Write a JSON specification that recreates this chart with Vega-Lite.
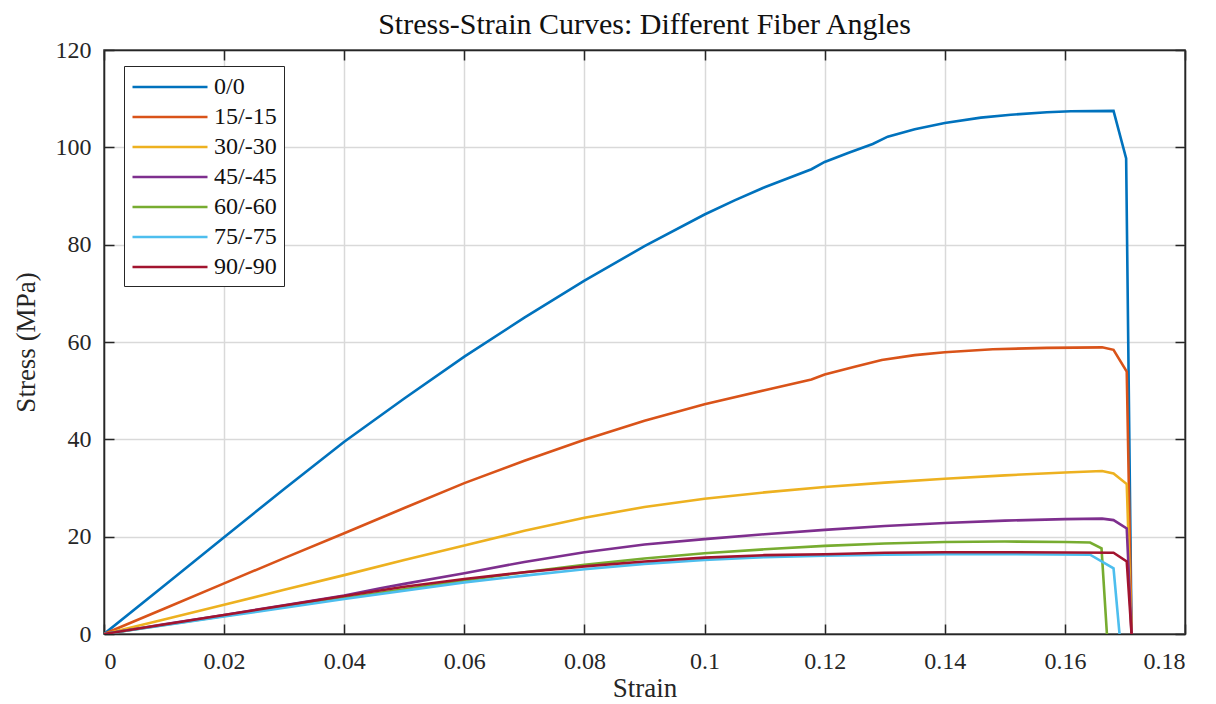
{
  "$schema": "https://vega.github.io/schema/vega-lite/v6.json",
  "autosize": "none",
  "padding": {"left": 104, "top": 50, "right": 31, "bottom": 70},
  "width": 1081,
  "height": 584,
  "background": "white",
  "title": {
    "text": "Stress-Strain Curves: Different Fiber Angles",
    "font": "Liberation Serif",
    "fontSize": 30,
    "fontWeight": "normal",
    "color": "#111111",
    "offset": -2
  },
  "config": {
    "view": {"stroke": "#262626", "strokeWidth": 1.5},
    "axis": {
      "labelFont": "Liberation Serif",
      "titleFont": "Liberation Serif",
      "labelFontSize": 24,
      "titleFontSize": 27,
      "titleFontWeight": "normal",
      "labelColor": "#262626",
      "titleColor": "#262626",
      "domainColor": "#262626",
      "domainWidth": 1.5,
      "tickColor": "#262626",
      "tickWidth": 1.5,
      "tickSize": -10,
      "gridColor": "#d9d9d9",
      "gridWidth": 1.5
    }
  },
  "data": {
    "values": [
      {"angle": "0/0", "strain": 0, "stress": 0},
      {"angle": "0/0", "strain": 0.01, "stress": 9.9},
      {"angle": "0/0", "strain": 0.02, "stress": 19.9},
      {"angle": "0/0", "strain": 0.03, "stress": 29.8},
      {"angle": "0/0", "strain": 0.04, "stress": 39.5},
      {"angle": "0/0", "strain": 0.05, "stress": 48.4},
      {"angle": "0/0", "strain": 0.06, "stress": 57.0},
      {"angle": "0/0", "strain": 0.07, "stress": 65.0},
      {"angle": "0/0", "strain": 0.08, "stress": 72.6},
      {"angle": "0/0", "strain": 0.09, "stress": 79.7},
      {"angle": "0/0", "strain": 0.1, "stress": 86.2},
      {"angle": "0/0", "strain": 0.105, "stress": 89.1},
      {"angle": "0/0", "strain": 0.11, "stress": 91.8},
      {"angle": "0/0", "strain": 0.1178, "stress": 95.5},
      {"angle": "0/0", "strain": 0.12, "stress": 97.0},
      {"angle": "0/0", "strain": 0.124, "stress": 98.9},
      {"angle": "0/0", "strain": 0.128, "stress": 100.7},
      {"angle": "0/0", "strain": 0.1305, "stress": 102.2},
      {"angle": "0/0", "strain": 0.135, "stress": 103.7},
      {"angle": "0/0", "strain": 0.14, "stress": 105.0},
      {"angle": "0/0", "strain": 0.146, "stress": 106.1},
      {"angle": "0/0", "strain": 0.151, "stress": 106.7},
      {"angle": "0/0", "strain": 0.157, "stress": 107.2},
      {"angle": "0/0", "strain": 0.161, "stress": 107.4},
      {"angle": "0/0", "strain": 0.1681, "stress": 107.5},
      {"angle": "0/0", "strain": 0.1702, "stress": 97.7},
      {"angle": "0/0", "strain": 0.1711, "stress": 0},

      {"angle": "15/-15", "strain": 0, "stress": 0},
      {"angle": "15/-15", "strain": 0.01, "stress": 5.2},
      {"angle": "15/-15", "strain": 0.02, "stress": 10.4},
      {"angle": "15/-15", "strain": 0.03, "stress": 15.6},
      {"angle": "15/-15", "strain": 0.04, "stress": 20.7},
      {"angle": "15/-15", "strain": 0.05, "stress": 25.9},
      {"angle": "15/-15", "strain": 0.06, "stress": 31.0},
      {"angle": "15/-15", "strain": 0.07, "stress": 35.6},
      {"angle": "15/-15", "strain": 0.08, "stress": 39.9},
      {"angle": "15/-15", "strain": 0.09, "stress": 43.8},
      {"angle": "15/-15", "strain": 0.1, "stress": 47.2},
      {"angle": "15/-15", "strain": 0.11, "stress": 50.1},
      {"angle": "15/-15", "strain": 0.1178, "stress": 52.3},
      {"angle": "15/-15", "strain": 0.12, "stress": 53.3},
      {"angle": "15/-15", "strain": 0.125, "stress": 54.9},
      {"angle": "15/-15", "strain": 0.1295, "stress": 56.3},
      {"angle": "15/-15", "strain": 0.135, "stress": 57.3},
      {"angle": "15/-15", "strain": 0.14, "stress": 57.9},
      {"angle": "15/-15", "strain": 0.148, "stress": 58.5},
      {"angle": "15/-15", "strain": 0.157, "stress": 58.8},
      {"angle": "15/-15", "strain": 0.1662, "stress": 58.9},
      {"angle": "15/-15", "strain": 0.1681, "stress": 58.4},
      {"angle": "15/-15", "strain": 0.1703, "stress": 53.9},
      {"angle": "15/-15", "strain": 0.1711, "stress": 0},

      {"angle": "30/-30", "strain": 0, "stress": 0},
      {"angle": "30/-30", "strain": 0.01, "stress": 3.0},
      {"angle": "30/-30", "strain": 0.02, "stress": 6.0},
      {"angle": "30/-30", "strain": 0.03, "stress": 9.1},
      {"angle": "30/-30", "strain": 0.04, "stress": 12.1},
      {"angle": "30/-30", "strain": 0.05, "stress": 15.2},
      {"angle": "30/-30", "strain": 0.06, "stress": 18.2},
      {"angle": "30/-30", "strain": 0.07, "stress": 21.2},
      {"angle": "30/-30", "strain": 0.08, "stress": 23.9},
      {"angle": "30/-30", "strain": 0.09, "stress": 26.1},
      {"angle": "30/-30", "strain": 0.1, "stress": 27.8},
      {"angle": "30/-30", "strain": 0.11, "stress": 29.1},
      {"angle": "30/-30", "strain": 0.12, "stress": 30.2},
      {"angle": "30/-30", "strain": 0.13, "stress": 31.1},
      {"angle": "30/-30", "strain": 0.14, "stress": 31.9},
      {"angle": "30/-30", "strain": 0.15, "stress": 32.6},
      {"angle": "30/-30", "strain": 0.16, "stress": 33.2},
      {"angle": "30/-30", "strain": 0.1662, "stress": 33.5},
      {"angle": "30/-30", "strain": 0.1681, "stress": 33.0},
      {"angle": "30/-30", "strain": 0.1703, "stress": 30.8},
      {"angle": "30/-30", "strain": 0.1711, "stress": 0},

      {"angle": "45/-45", "strain": 0, "stress": 0},
      {"angle": "45/-45", "strain": 0.01, "stress": 2.0},
      {"angle": "45/-45", "strain": 0.02, "stress": 3.9},
      {"angle": "45/-45", "strain": 0.03, "stress": 5.9},
      {"angle": "45/-45", "strain": 0.04, "stress": 7.9},
      {"angle": "45/-45", "strain": 0.046, "stress": 9.4},
      {"angle": "45/-45", "strain": 0.05, "stress": 10.3},
      {"angle": "45/-45", "strain": 0.06, "stress": 12.5},
      {"angle": "45/-45", "strain": 0.07, "stress": 14.8},
      {"angle": "45/-45", "strain": 0.08, "stress": 16.8},
      {"angle": "45/-45", "strain": 0.09, "stress": 18.4},
      {"angle": "45/-45", "strain": 0.1, "stress": 19.5},
      {"angle": "45/-45", "strain": 0.11, "stress": 20.5},
      {"angle": "45/-45", "strain": 0.12, "stress": 21.4},
      {"angle": "45/-45", "strain": 0.13, "stress": 22.2},
      {"angle": "45/-45", "strain": 0.14, "stress": 22.8},
      {"angle": "45/-45", "strain": 0.15, "stress": 23.3},
      {"angle": "45/-45", "strain": 0.16, "stress": 23.6},
      {"angle": "45/-45", "strain": 0.1662, "stress": 23.7},
      {"angle": "45/-45", "strain": 0.1681, "stress": 23.4},
      {"angle": "45/-45", "strain": 0.1703, "stress": 21.7},
      {"angle": "45/-45", "strain": 0.1711, "stress": 0},

      {"angle": "60/-60", "strain": 0, "stress": 0},
      {"angle": "60/-60", "strain": 0.02, "stress": 3.7},
      {"angle": "60/-60", "strain": 0.04, "stress": 7.4},
      {"angle": "60/-60", "strain": 0.06, "stress": 11.0},
      {"angle": "60/-60", "strain": 0.07, "stress": 12.7},
      {"angle": "60/-60", "strain": 0.08, "stress": 14.2},
      {"angle": "60/-60", "strain": 0.09, "stress": 15.5},
      {"angle": "60/-60", "strain": 0.1, "stress": 16.6},
      {"angle": "60/-60", "strain": 0.11, "stress": 17.4},
      {"angle": "60/-60", "strain": 0.12, "stress": 18.1},
      {"angle": "60/-60", "strain": 0.13, "stress": 18.6},
      {"angle": "60/-60", "strain": 0.14, "stress": 18.9},
      {"angle": "60/-60", "strain": 0.15, "stress": 19.0},
      {"angle": "60/-60", "strain": 0.16, "stress": 18.9},
      {"angle": "60/-60", "strain": 0.1642, "stress": 18.8},
      {"angle": "60/-60", "strain": 0.1661, "stress": 17.6},
      {"angle": "60/-60", "strain": 0.167, "stress": 0},

      {"angle": "75/-75", "strain": 0, "stress": 0},
      {"angle": "75/-75", "strain": 0.02, "stress": 3.6},
      {"angle": "75/-75", "strain": 0.04, "stress": 7.2},
      {"angle": "75/-75", "strain": 0.06, "stress": 10.6},
      {"angle": "75/-75", "strain": 0.07, "stress": 12.0},
      {"angle": "75/-75", "strain": 0.08, "stress": 13.3},
      {"angle": "75/-75", "strain": 0.09, "stress": 14.4},
      {"angle": "75/-75", "strain": 0.1, "stress": 15.2},
      {"angle": "75/-75", "strain": 0.11, "stress": 15.8},
      {"angle": "75/-75", "strain": 0.12, "stress": 16.1},
      {"angle": "75/-75", "strain": 0.13, "stress": 16.3},
      {"angle": "75/-75", "strain": 0.14, "stress": 16.4},
      {"angle": "75/-75", "strain": 0.15, "stress": 16.4},
      {"angle": "75/-75", "strain": 0.1642, "stress": 16.3},
      {"angle": "75/-75", "strain": 0.1681, "stress": 13.5},
      {"angle": "75/-75", "strain": 0.1691, "stress": 0},

      {"angle": "90/-90", "strain": 0, "stress": 0},
      {"angle": "90/-90", "strain": 0.02, "stress": 3.9},
      {"angle": "90/-90", "strain": 0.04, "stress": 7.8},
      {"angle": "90/-90", "strain": 0.05, "stress": 9.7},
      {"angle": "90/-90", "strain": 0.06, "stress": 11.3},
      {"angle": "90/-90", "strain": 0.07, "stress": 12.7},
      {"angle": "90/-90", "strain": 0.08, "stress": 13.9},
      {"angle": "90/-90", "strain": 0.09, "stress": 14.9},
      {"angle": "90/-90", "strain": 0.1, "stress": 15.7},
      {"angle": "90/-90", "strain": 0.11, "stress": 16.2},
      {"angle": "90/-90", "strain": 0.12, "stress": 16.4},
      {"angle": "90/-90", "strain": 0.13, "stress": 16.7},
      {"angle": "90/-90", "strain": 0.14, "stress": 16.8},
      {"angle": "90/-90", "strain": 0.15, "stress": 16.8},
      {"angle": "90/-90", "strain": 0.1681, "stress": 16.7},
      {"angle": "90/-90", "strain": 0.1703, "stress": 14.9},
      {"angle": "90/-90", "strain": 0.1711, "stress": 0}
    ]
  },
  "layer": [
    {
      "mark": {"type": "line", "strokeWidth": 2.6, "clip": true},
      "encoding": {
        "x": {
          "field": "strain", "type": "quantitative",
          "scale": {"domain": [0, 0.18], "nice": false, "zero": false},
          "axis": {
            "title": "Strain",
            "values": [0, 0.02, 0.04, 0.06, 0.08, 0.1, 0.12, 0.14, 0.16, 0.18],
            "format": ".2~f",
            "labelPadding": 25,
            "titlePadding": 2,
            "grid": true
          }
        },
        "y": {
          "field": "stress", "type": "quantitative",
          "scale": {"domain": [0, 120], "nice": false},
          "axis": {
            "title": "Stress (MPa)",
            "values": [0, 20, 40, 60, 80, 100, 120],
            "labelPadding": 23,
            "titlePadding": 15,
            "grid": true
          }
        },
        "color": {
          "field": "angle", "type": "nominal",
          "scale": {
            "domain": ["0/0", "15/-15", "30/-30", "45/-45", "60/-60", "75/-75", "90/-90"],
            "range": ["#0072BD", "#D95319", "#EDB120", "#7E2F8E", "#77AC30", "#4DBEEE", "#A2142F"]
          },
          "legend": {
            "title": null,
            "orient": "none",
            "legendX": 20,
            "legendY": 16,
            "symbolType": "M-1,0H5",
            "symbolSize": 625,
            "symbolStrokeWidth": 2.6,
            "labelFont": "Liberation Serif",
            "labelFontSize": 24,
            "labelColor": "#111111",
            "labelOffset": 55,
            "rowPadding": 4,
            "padding": 7,
            "strokeColor": "#262626",
            "fillColor": "white"
          }
        }
      }
    },
    {
      "mark": {"type": "line", "strokeOpacity": 0},
      "encoding": {
        "x": {
          "field": "strain", "type": "quantitative",
          "axis": {
            "orient": "top", "title": null, "labels": false, "grid": false,
            "values": [0, 0.02, 0.04, 0.06, 0.08, 0.1, 0.12, 0.14, 0.16, 0.18]
          }
        },
        "y": {
          "field": "stress", "type": "quantitative",
          "axis": {
            "orient": "right", "title": null, "labels": false, "grid": false,
            "values": [0, 20, 40, 60, 80, 100, 120]
          }
        },
        "detail": {"field": "angle"}
      }
    }
  ],
  "resolve": {"axis": {"x": "independent", "y": "independent"}}
}
